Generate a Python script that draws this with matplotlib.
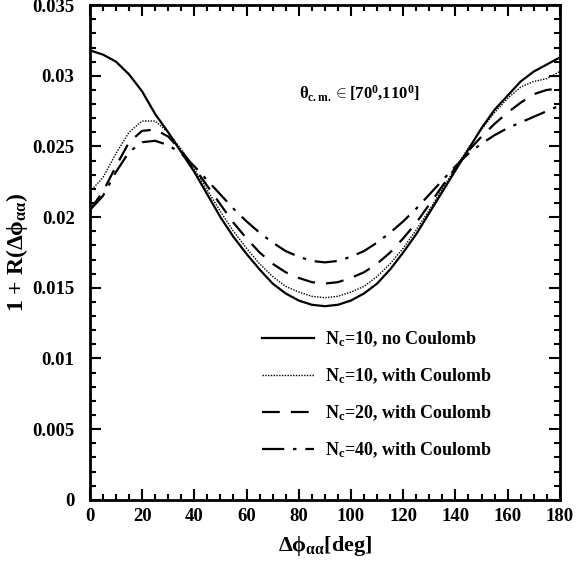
import matplotlib
matplotlib.use("Agg")
import matplotlib.pyplot as plt
from matplotlib.ticker import MultipleLocator

plt.rcParams['font.family'] = ['Liberation Serif', 'DejaVu Serif']
plt.rcParams['font.weight'] = 'bold'
plt.rcParams['axes.labelweight'] = 'bold'
plt.rcParams['mathtext.fontset'] = 'custom'
plt.rcParams['mathtext.rm'] = 'Liberation Serif:bold'
plt.rcParams['mathtext.it'] = 'Liberation Serif:bold'
plt.rcParams['mathtext.bf'] = 'Liberation Serif:bold'

# ---- data ----
phi = [0, 5, 10, 15, 20, 25, 30, 35, 40, 45, 50, 55, 60, 65, 70, 75, 80, 85, 90,
       95, 100, 105, 110, 115, 120, 125, 130, 135, 140, 145, 150, 155, 160, 165, 170, 175, 180]

nc10_nocoul = [0.0318, 0.0315, 0.0310, 0.0301, 0.0289, 0.0273, 0.0260, 0.0246, 0.0232, 0.0216,
               0.0200, 0.0186, 0.0174, 0.0163, 0.0153, 0.0146, 0.0141, 0.0138, 0.0137,
               0.0138, 0.0141, 0.0146, 0.0153, 0.0163, 0.0175, 0.0188, 0.0203, 0.0218, 0.0233,
               0.0248, 0.0263, 0.0276, 0.0286, 0.0296, 0.0303, 0.0308, 0.0313]

nc10_coul = [0.0218, 0.0228, 0.0245, 0.0260, 0.0268, 0.0268, 0.0260, 0.0248, 0.0234, 0.0219,
             0.0204, 0.0190, 0.0178, 0.0167, 0.0158, 0.0151, 0.0147, 0.0144, 0.0143,
             0.0144, 0.0147, 0.0151, 0.0158, 0.0167, 0.0178, 0.0191, 0.0205, 0.0220, 0.0235,
             0.0249, 0.0262, 0.0274, 0.0284, 0.0292, 0.0296, 0.0298, 0.0303]

nc20_coul = [0.0205, 0.0218, 0.0236, 0.0253, 0.0261, 0.0262, 0.0257, 0.0247, 0.0235, 0.0222,
             0.0209, 0.0196, 0.0185, 0.0175, 0.0167, 0.0161, 0.0157, 0.0154, 0.0153,
             0.0154, 0.0157, 0.0161, 0.0167, 0.0175, 0.0185, 0.0196, 0.0209, 0.0222, 0.0235,
             0.0247, 0.0257, 0.0266, 0.0274, 0.0281, 0.0287, 0.0290, 0.0291]

nc40_coul = [0.0205, 0.0215, 0.0232, 0.0246, 0.0253, 0.0254, 0.0251, 0.0245, 0.0236, 0.0226,
             0.0216, 0.0206, 0.0197, 0.0189, 0.0182, 0.0176, 0.0172, 0.0169, 0.0168,
             0.0169, 0.0172, 0.0176, 0.0182, 0.0189, 0.0197, 0.0206, 0.0216, 0.0226, 0.0236,
             0.0245, 0.0252, 0.0258, 0.0263, 0.0267, 0.0271, 0.0275, 0.0279]

labels = [r'N$_{\rm c}$=10, no Coulomb', r'N$_{\rm c}$=10, with Coulomb',
          r'N$_{\rm c}$=20, with Coulomb', r'N$_{\rm c}$=40, with Coulomb']

fig = plt.figure(figsize=(5.76, 5.68), dpi=100)
ax = fig.add_axes([0.156, 0.120, 0.816, 0.871])

ax.plot(phi, nc10_nocoul, color='black', lw=1.6, ls='-', label=labels[0])
ax.plot(phi, nc10_coul, color='black', lw=1.0, ls=(0, (1, 1)), label=labels[1])
ax.plot(phi, nc20_coul, color='black', lw=1.6, ls=(0, (8, 5)), label=labels[2])
ax.plot(phi, nc40_coul, color='black', lw=1.6, ls=(0, (10, 4, 1.5, 4)), label=labels[3])

ax.set_xlim(0, 180)
ax.set_ylim(0, 0.035)
ax.xaxis.set_major_locator(MultipleLocator(20))
ax.xaxis.set_minor_locator(MultipleLocator(5))
ax.yaxis.set_major_locator(MultipleLocator(0.005))
ax.yaxis.set_minor_locator(MultipleLocator(0.001))
ax.set_yticks([0, 0.005, 0.01, 0.015, 0.02, 0.025, 0.03, 0.035])
ax.set_yticklabels(['0', '0.005', '0.01', '0.015', '0.02', '0.025', '0.03', '0.035'])
ax.tick_params(which='both', direction='in', top=True, right=True, width=1.5, labelsize=13.5)
ax.tick_params(which='major', length=8)
ax.tick_params(axis='x', which='major', pad=6)
ax.tick_params(axis='y', which='major', pad=11)
ax.tick_params(which='minor', length=4)
for s in ax.spines.values():
    s.set_linewidth(2)

ax.set_xlabel(r'$\Delta\phi_{\alpha\alpha}$[deg]', fontsize=16, labelpad=6)
ax.set_ylabel(r'1 + R($\Delta\phi_{\alpha\alpha}$)', fontsize=17, labelpad=2)

ax.text(0.574, 0.822, r'$\theta_{\rm c.m.}\in$[70$^{\rm 0}$,110$^{\rm 0}$]',
        transform=ax.transAxes, ha='center', va='center', fontsize=12)

ax.legend(loc='upper left', bbox_to_anchor=(0.366, 0.345), frameon=False,
          borderaxespad=0, borderpad=0, handlelength=2.9, handletextpad=0.6,
          labelspacing=0.97, fontsize=13)

fig.savefig('out.png', dpi=100)
